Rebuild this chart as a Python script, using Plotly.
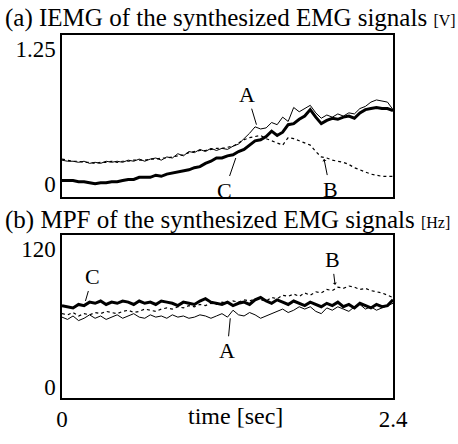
import plotly.graph_objects as go

# time axis [sec]
time = [0.00, 0.04, 0.08, 0.12, 0.16, 0.20, 0.24, 0.28, 0.32, 0.36,
        0.40, 0.44, 0.48, 0.52, 0.56, 0.60, 0.64, 0.68, 0.72, 0.76,
        0.80, 0.84, 0.88, 0.92, 0.96, 1.00, 1.04, 1.08, 1.12, 1.16,
        1.20, 1.24, 1.28, 1.32, 1.36, 1.40, 1.44, 1.48, 1.52, 1.56,
        1.60, 1.64, 1.68, 1.72, 1.76, 1.80, 1.84, 1.88, 1.92, 1.96,
        2.00, 2.04, 2.08, 2.12, 2.16, 2.20, 2.24, 2.28, 2.32, 2.36, 2.40]

# (a) IEMG [V]
iemg_A = [0.22, 0.21, 0.21, 0.20, 0.21, 0.19, 0.20, 0.19, 0.21, 0.20,
          0.21, 0.20, 0.22, 0.21, 0.23, 0.21, 0.23, 0.24, 0.22, 0.25,
          0.24, 0.28, 0.26, 0.30, 0.29, 0.32, 0.30, 0.33, 0.31, 0.33,
          0.32, 0.35, 0.37, 0.42, 0.47, 0.53, 0.51, 0.52, 0.57, 0.55,
          0.62, 0.58, 0.71, 0.67, 0.70, 0.73, 0.66, 0.61, 0.64, 0.62,
          0.65, 0.63, 0.66, 0.65, 0.70, 0.72, 0.76, 0.78, 0.77, 0.76, 0.69]
iemg_B = [0.23, 0.22, 0.21, 0.21, 0.20, 0.20, 0.19, 0.20, 0.20, 0.21,
          0.20, 0.21, 0.21, 0.22, 0.22, 0.22, 0.23, 0.23, 0.24, 0.24,
          0.25, 0.26, 0.27, 0.29, 0.30, 0.31, 0.31, 0.32, 0.33, 0.33,
          0.34, 0.35, 0.38, 0.41, 0.43, 0.44, 0.45, 0.42, 0.40, 0.38,
          0.36, 0.43, 0.42, 0.40, 0.38, 0.36, 0.30, 0.25, 0.24, 0.22,
          0.21, 0.20, 0.18, 0.15, 0.13, 0.11, 0.09, 0.08, 0.07, 0.07, 0.07]
iemg_C = [0.03, 0.03, 0.03, 0.02, 0.02, 0.01, 0.00, 0.01, 0.01, 0.02,
          0.02, 0.03, 0.04, 0.04, 0.06, 0.06, 0.06, 0.08, 0.07, 0.09,
          0.10, 0.11, 0.12, 0.13, 0.15, 0.16, 0.19, 0.21, 0.24, 0.24,
          0.26, 0.27, 0.30, 0.32, 0.36, 0.40, 0.41, 0.44, 0.49, 0.45,
          0.48, 0.55, 0.56, 0.60, 0.63, 0.69, 0.62, 0.56, 0.59, 0.61,
          0.60, 0.62, 0.63, 0.61, 0.66, 0.69, 0.70, 0.71, 0.70, 0.70, 0.68]

# (b) MPF [Hz]
mpf_A = [61, 59, 62, 58, 60, 63, 60, 62, 59, 61, 63, 60, 62, 64, 61, 60, 63, 61, 62, 60,
         63, 61, 62, 60, 61, 63, 62, 60, 62, 64, 61, 67, 63, 62, 65, 63, 60, 62, 64, 66,
         68, 65, 67, 70, 68, 70, 66, 64, 69, 67, 70, 68, 66, 70, 72, 68, 70, 67, 69, 71, 73]
mpf_B = [64, 63, 65, 62, 64, 63, 65, 64, 66, 65, 64, 66, 67, 65, 66, 68, 67, 66, 68, 69,
         68, 70, 69, 71, 70, 72, 71, 73, 72, 74, 73, 75, 74, 76, 75, 77, 76, 75, 78, 77,
         80, 79, 81, 79, 82, 80, 83, 82, 85, 84, 87, 86, 88, 87, 85, 86, 84, 83, 82, 80, 78]
mpf_C = [71, 70, 69, 72, 71, 74, 73, 75, 72, 74, 73, 75, 74, 72, 75, 73, 74, 72, 75, 74,
         73, 71, 74, 73, 72, 75, 77, 74, 73, 72, 74, 71, 73, 74, 72, 76, 78, 75, 73, 76,
         74, 72, 75, 73, 71, 74, 72, 70, 73, 71, 74, 70, 72, 69, 73, 71, 69, 72, 70, 71, 76]

FONT = "Liberation Serif"
fig = go.Figure()

def add(y, width, dash, xa, ya):
    fig.add_trace(go.Scatter(x=time, y=y, mode="lines", xaxis=xa, yaxis=ya,
                             line=dict(color="black", width=width, dash=dash),
                             showlegend=False, hoverinfo="skip"))

add(iemg_B, 1.2, "dot", "x", "y")
add(iemg_A, 1.0, "solid", "x", "y")
add(iemg_C, 3.0, "solid", "x", "y")
add(mpf_B, 1.2, "dot", "x2", "y2")
add(mpf_A, 1.0, "solid", "x2", "y2")
add(mpf_C, 3.0, "solid", "x2", "y2")

axis_common = dict(showline=True, linecolor="black", linewidth=1.5, mirror=True,
                   showgrid=False, zeroline=False, ticks="",
                   tickfont=dict(family=FONT, size=23, color="black"))

fig.update_layout(
    width=458, height=444,
    margin=dict(l=62, r=65, t=35, b=31),
    paper_bgcolor="white", plot_bgcolor="white",
    font=dict(family=FONT, color="black"),
    xaxis=dict(domain=[0, 1], anchor="y", range=[0, 2.4], showticklabels=False, **axis_common),
    yaxis=dict(domain=[0.553, 1.0], anchor="x", range=[-0.125, 1.384],
               tickvals=[0, 1.25], ticktext=["0", "1.25"], **axis_common),
    xaxis2=dict(domain=[0, 1], anchor="y2", range=[0, 2.4],
                tickvals=[0, 2.4], ticktext=["0", "2.4"], **axis_common),
    yaxis2=dict(domain=[0, 0.4497], anchor="x2", range=[-9.2, 132.5],
                tickvals=[0, 120], ticktext=["0", "120"], **axis_common),
)

ann = []
ann.append(dict(xref="paper", yref="paper", x=-0.178, y=1.047, xanchor="left", yanchor="middle",
                text="(a) IEMG of the synthesized EMG signals <span style='font-size:16px'>[V]</span>",
                showarrow=False, font=dict(family=FONT, size=25)))
ann.append(dict(xref="paper", yref="paper", x=-0.178, y=0.490, xanchor="left", yanchor="middle",
                text="(b) MPF of the synthesized EMG signals <span style='font-size:16px'>[Hz]</span>",
                showarrow=False, font=dict(family=FONT, size=25)))
ann.append(dict(xref="paper", yref="paper", x=0.523, y=-0.05, xanchor="center", yanchor="middle",
                text="time [sec]", showarrow=False, font=dict(family=FONT, size=24)))

def label(txt, x, y, ax, ay, xr, yr, head=0):
    ann.append(dict(xref=xr, yref=yr, x=x, y=y, ax=ax, ay=ay, text=txt, showarrow=True,
                    arrowhead=head, arrowsize=0.7, arrowwidth=1, arrowcolor="black",
                    font=dict(family=FONT, size=22)))

label("A", 1.41, 0.55, -9, -30, "x", "y")
label("C", 1.26, 0.24, -11, 32, "x", "y")
label("B", 1.90, 0.23, 6, 30, "x", "y", head=1)
label("C", 0.17, 75, 7, -24, "x2", "y2")
label("A", 1.22, 60, -3, 32, "x2", "y2")
label("B", 1.98, 89, -3, -25, "x2", "y2", head=1)

fig.update_layout(annotations=ann)
fig.write_html("out.html")
